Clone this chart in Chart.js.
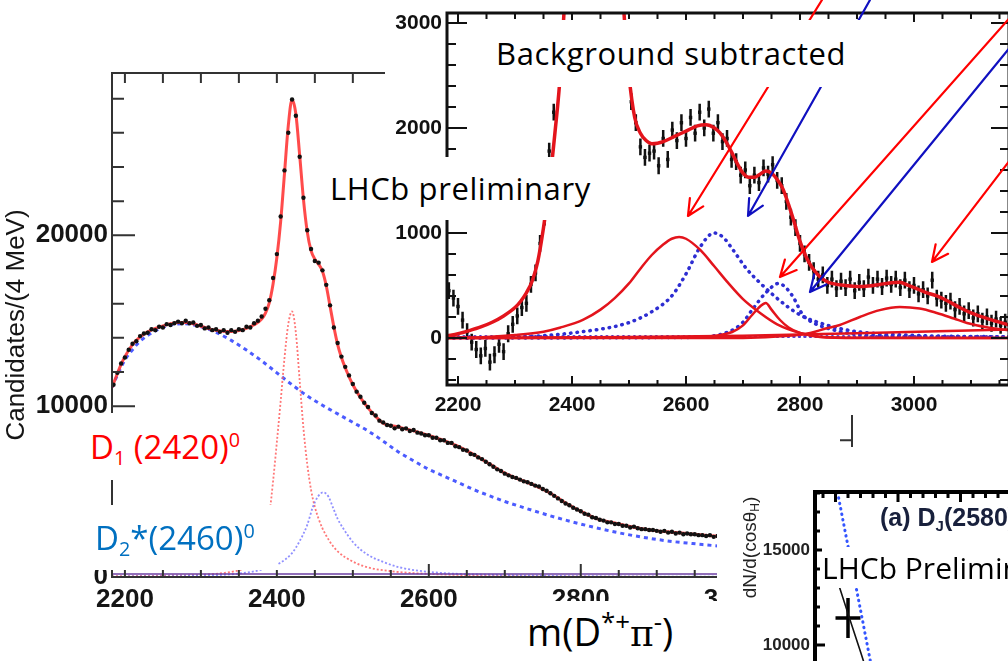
<!DOCTYPE html>
<html>
<head>
<meta charset="utf-8">
<script src="https://cdn.jsdelivr.net/npm/chart.js@4.4.0/dist/chart.umd.min.js"></script>
<style>
  html, body { margin: 0; padding: 0; width: 1008px; height: 661px; overflow: hidden; background: #fff; }
  canvas { display: block; }
  .panel { position: absolute; background: #fff; overflow: hidden; }
  .box { position: absolute; background: #fff; font-family: "Open Sans", sans-serif; white-space: nowrap; overflow: hidden; }
  .sub { position: relative; font-size: 0.6em; top: 0.32em; }
  .sup { position: relative; font-size: 0.6em; top: -0.6em; }
  .tag { position: absolute; left: 880px; top: 504px; font-family: "Liberation Sans", Arial, sans-serif; font-weight: bold; font-size: 25px; line-height: 26px; color: #18203c; white-space: nowrap; }
</style>
</head>
<body>
<canvas id="mainChart" width="1008" height="661" style="position:absolute;left:0;top:0"></canvas>

<div class="panel" style="left:717px;top:447px;width:420px;height:400px">
  <canvas id="angleChart" width="420" height="400"></canvas>
</div>
<div class="tag">(a) D<span class="sub">J</span>(2580)<span class="sup">0</span></div>

<div class="panel" style="left:385px;top:0;width:640px;height:415px">
  <canvas id="insetChart" width="640" height="415"></canvas>
</div>

<!-- slide text boxes -->
<div class="box" style="left:490px;top:20px;width:375px;height:67px;font-size:31px;letter-spacing:0.6px;line-height:67px;padding-left:6px;box-sizing:border-box">Background subtracted</div>
<div class="box" style="left:322px;top:157px;width:278px;height:63px;font-size:31px;letter-spacing:0.6px;line-height:63px;padding-left:8px;box-sizing:border-box">LHCb preliminary</div>
<div class="box" style="left:65px;top:413px;width:203px;height:67px;font-size:33px;line-height:67px;padding-left:25px;box-sizing:border-box;color:#ff0000">D<span class="sub">1</span> (2420)<span class="sup">0</span></div>
<div class="box" style="left:80px;top:505px;width:198px;height:65px;font-size:33px;line-height:65px;padding-left:15px;box-sizing:border-box;color:#0070c0">D<span class="sub">2</span>*(2460)<span class="sup">0</span></div>
<div class="box" style="left:505px;top:601px;width:212px;height:60px;font-size:38px;line-height:60px;padding-left:22px;box-sizing:border-box;color:#000">m(D<span class="sup" style="font-size:0.68em">*+</span><span style="font-family:'DejaVu Serif',serif;font-size:0.95em">π</span><span class="sup" style="font-size:0.68em">-</span>)</div>
<div class="box" style="left:818px;top:553px;width:200px;height:30px;font-size:30px;line-height:30px;padding-left:4px;box-sizing:border-box;overflow:visible;background:transparent"><span style="background:#fff">LHCb Preliminary</span></div>

<script>
// ---------- DATA ----------
// main fit, m(D*+ pi-) in MeV vs candidates / 4 MeV
const mainXTicks = [2200, 2400, 2600, 2800, 3000];
const mainYTicks = [0, 10000, 20000];

// data points, 5 MeV apart starting at 2185
const mainStart = 2185;
const mainStep = 5;
const mainCounts = [
  11250, 11950, 12500, 12850, 13300, 13650, 13800, 14100, 14250, 14300,
  14500, 14450, 14650, 14600, 14800, 14750, 14850, 14950, 14850, 15000,
  14850, 14900, 14700, 14750, 14550, 14600, 14450, 14500, 14350, 14450,
  14300, 14450, 14350, 14500, 14450, 14650, 14600, 14850, 15000, 15250,
  15700, 16200, 17500, 18900, 21100, 23800, 26000, 27950, 27000, 24600,
  22200, 20300, 19200, 18500, 18400, 17950, 17100, 15900, 14600, 13700,
  12900, 12300, 11800, 11300, 10850, 10550, 10200, 9950, 9600, 9450,
  9150, 9050, 8900, 8850, 8700, 8800, 8650, 8700, 8550, 8600,
  8450, 8400, 8300, 8300, 8150, 8150, 8000, 8000, 7850, 7850,
  7650, 7600, 7450, 7400, 7200, 7150, 7000, 6900, 6750, 6600,
  6450, 6300, 6200, 6050, 5950, 5850, 5800, 5700, 5600, 5550,
  5450, 5350, 5300, 5150, 5050, 4900, 4750, 4600, 4450, 4300,
  4200, 4050, 3950, 3850, 3700, 3650, 3500, 3450, 3350, 3300,
  3200, 3200, 3100, 3100, 3000, 3000, 2900, 2950, 2850, 2800,
  2800, 2750, 2750, 2700, 2650, 2700, 2600, 2650, 2550, 2600,
  2500, 2550, 2500, 2500, 2450, 2450, 2400, 2450, 2350, 2400,
  2300, 2350, 2300, 2300, 2250, 2250, 2200, 2250, 2150, 2200,
  2150, 2150, 2100, 2100, 2050, 2100, 2050, 2050, 2000, 2050,
  1950, 2000, 1950, 1950, 1900, 1950, 1900, 1900, 1850, 1900,
  1850, 1850, 1800, 1850, 1800
];

const mainFit = [
  [2183, 11100], [2190, 11900], [2195, 12450], [2200, 12900], [2210, 13600], [2220, 14050],
  [2230, 14350], [2240, 14550], [2250, 14700], [2260, 14820], [2270, 14900], [2280, 14900],
  [2290, 14820], [2300, 14680], [2310, 14540], [2320, 14440], [2330, 14380], [2340, 14370],
  [2350, 14420], [2360, 14550], [2370, 14760], [2380, 15100], [2385, 15450], [2390, 16050],
  [2395, 17150], [2400, 18700], [2405, 20800], [2410, 23600], [2415, 26400], [2420, 27950],
  [2425, 27100], [2430, 24700], [2435, 22100], [2440, 20200], [2445, 19100], [2450, 18600],
  [2455, 18300], [2460, 17900], [2465, 17050], [2470, 15850], [2475, 14650], [2480, 13600],
  [2485, 12850], [2490, 12250], [2500, 11250], [2510, 10500], [2520, 9900], [2530, 9400],
  [2540, 9000], [2560, 8780], [2580, 8550], [2600, 8280], [2620, 7980], [2640, 7620],
  [2660, 7150], [2680, 6620], [2700, 6080], [2720, 5700], [2740, 5350], [2760, 4900],
  [2780, 4330], [2800, 3850], [2820, 3430], [2840, 3200], [2860, 3000], [2880, 2820],
  [2900, 2700], [2920, 2620], [2940, 2540], [2960, 2460], [2980, 2380], [3000, 2310],
  [3020, 2240], [3040, 2170], [3060, 2100], [3080, 2040], [3100, 1980], [3120, 1920],
  [3140, 1870], [3157, 1830]
];

const mainBackground = [
  [2183, 11100], [2190, 11800], [2200, 12700], [2210, 13300], [2220, 13800], [2240, 14400],
  [2260, 14750], [2280, 14820], [2300, 14650], [2320, 14320], [2340, 13850], [2360, 13280],
  [2380, 12650], [2400, 11950], [2420, 11250], [2440, 10600], [2460, 10050], [2480, 9550],
  [2500, 9050], [2520, 8550], [2540, 7950], [2560, 7320], [2580, 6800], [2600, 6300],
  [2620, 5900], [2640, 5500], [2660, 5100], [2680, 4750], [2700, 4420], [2720, 4130],
  [2740, 3850], [2760, 3580], [2780, 3330], [2800, 3100], [2820, 2880], [2840, 2680],
  [2860, 2500], [2880, 2340], [2900, 2200], [2920, 2080], [2940, 1990], [2960, 1900],
  [2980, 1820], [3000, 1750], [3050, 1590], [3100, 1460], [3157, 1340]
];

const d1Shape = [
  [2183, 40], [2250, 80], [2300, 130], [2340, 300], [2360, 550], [2370, 850], [2380, 1500],
  [2385, 2300], [2390, 3600], [2395, 5600], [2400, 7900], [2405, 10300], [2410, 12800],
  [2415, 14800], [2420, 15550], [2425, 14300], [2430, 11500], [2435, 8700], [2440, 6600],
  [2445, 5100], [2450, 4100], [2455, 3400], [2460, 2850], [2470, 2050], [2480, 1500],
  [2500, 900], [2520, 560], [2550, 340], [2600, 180], [2700, 70], [2800, 30], [3157, 0]
];

const d2Shape = [
  [2183, 20], [2300, 80], [2350, 200], [2380, 430], [2404, 820], [2420, 1400], [2430, 2100],
  [2440, 3050], [2447, 4050], [2454, 4700], [2461, 4950], [2468, 4700], [2474, 4050],
  [2480, 3400], [2487, 2870], [2500, 2050], [2518, 1350], [2540, 880], [2562, 560],
  [2600, 300], [2700, 110], [2800, 50], [3157, 10]
];

const mainBaseline = [[2183, 180], [3157, 180]];

// background subtracted inset
const insetXTicks = [2200, 2400, 2600, 2800, 3000];
const insetYTicks = [0, 1000, 2000, 3000];

// data points, 8 MeV apart starting at 2184
const bsStart = 2184;
const bsStep = 8;
const bsErr = 80;
const bsCounts = [
  450, 380, 300, 170, 60, -40, -110, -170,
  -100, -230, -160, -60, -130, 40, 130, 210,
  290, 330, 510, 620, 900, 1150, 1780, 2150,
  2650, 3400, 4500, 6000, 8500, 11000, 11500, 9000,
  7000, 6300, 6400, 6200, 5200, 4200, 3300, 2550,
  2250, 2050, 1820, 1720, 1760, 1780, 1640, 1900,
  1700, 1980, 1880, 2050, 1900, 2100, 1950, 2150,
  2000, 2180, 1950, 2050, 1870, 1900, 1700, 1680,
  1550, 1600, 1450, 1550, 1480, 1620, 1560, 1650,
  1500, 1450, 1300, 1150, 1050, 900, 800, 720,
  640, 560, 600, 500, 560, 470, 540, 480,
  560, 450, 530, 470, 580, 500, 560, 490,
  570, 510, 560, 480, 550, 460, 500, 420,
  460, 400, 550, 380, 360, 330, 350, 270,
  300, 230, 260, 190, 230, 160, 200, 140,
  180, 120, 150, 100
];

const bsFit = [
  [2181, 20], [2200, 40], [2220, 70], [2240, 105], [2260, 150], [2280, 210], [2300, 290],
  [2310, 350], [2320, 430], [2330, 540], [2340, 730], [2350, 1050], [2360, 1450], [2370, 1950],
  [2380, 2550], [2390, 3600], [2400, 5500], [2410, 9000], [2420, 12000], [2430, 9500],
  [2440, 7000], [2450, 6200], [2460, 6500], [2470, 5600], [2480, 4300], [2490, 3200],
  [2500, 2500], [2510, 2100], [2520, 1950], [2530, 1880], [2540, 1850], [2550, 1855],
  [2560, 1870], [2580, 1920], [2600, 1970], [2620, 2020], [2635, 2030], [2650, 2000],
  [2660, 1950], [2670, 1870], [2680, 1770], [2690, 1660], [2700, 1570], [2710, 1530],
  [2720, 1530], [2730, 1560], [2740, 1590], [2750, 1570], [2760, 1510], [2770, 1420],
  [2780, 1270], [2790, 1100], [2800, 920], [2810, 780], [2820, 680], [2830, 610],
  [2840, 560], [2850, 530], [2860, 515], [2880, 500], [2900, 490], [2920, 495],
  [2940, 510], [2960, 525], [2975, 530], [2990, 500], [3000, 480], [3020, 435],
  [3040, 400], [3060, 350], [3080, 290], [3100, 240], [3120, 200], [3140, 165], [3170, 120]
];

const dj2600 = [
  [2181, 0], [2250, 10], [2300, 28], [2350, 60], [2380, 100], [2420, 175], [2450, 270],
  [2475, 380], [2500, 520], [2520, 660], [2540, 790], [2560, 890], [2575, 945], [2588, 962],
  [2600, 945], [2625, 838], [2650, 680], [2674, 524], [2700, 370], [2730, 238], [2760, 130],
  [2800, 48], [2835, 12], [2900, 2], [3170, 0]
];
const dj2650 = [
  [2181, 0], [2309, 10], [2414, 57], [2498, 143], [2540, 250], [2575, 400], [2600, 610],
  [2625, 867], [2649, 1000], [2665, 960], [2681, 850], [2706, 660], [2730, 524], [2755, 400],
  [2779, 295], [2805, 205], [2835, 143], [2870, 90], [2905, 57], [3000, 25], [3170, 10]
];
const dj2740 = [
  [2181, 0], [2600, 5], [2650, 20], [2681, 57], [2700, 120], [2716, 219], [2730, 300],
  [2740, 333], [2750, 270], [2765, 171], [2780, 100], [2800, 48], [2835, 10], [2900, 0], [3170, 0]
];
const dj2760 = [
  [2181, 0], [2600, 5], [2674, 57], [2700, 150], [2716, 267], [2740, 430], [2763, 520],
  [2775, 480], [2788, 390], [2805, 220], [2825, 140], [2847, 95], [2875, 55], [2905, 30],
  [3000, 15], [3170, 5]
];
const dj3000 = [
  [2181, 0], [2700, 0], [2780, 20], [2818, 48], [2845, 90], [2870, 124], [2905, 200],
  [2940, 265], [2975, 295], [3010, 280], [3040, 238], [3070, 185], [3093, 143], [3130, 100], [3170, 70]
];
const bsRedBase = [[2181, 0], [2500, 8], [2700, 20], [2900, 45], [3170, 80]];
const bsBlueBase = [[2181, 15], [3170, 15]];

// arrows pointing at the states, in (mass, candidates) of the inset
const insetArrows = [
  { from: [2838.6, 3219], to: [2603.5, 1162], color: '#ff0000' },
  { from: [2922.8, 3219], to: [2708.8, 1162], color: '#1010c0' },
  { from: [3203.5, 3266], to: [2764.9, 581], color: '#ff0000' },
  { from: [3203.5, 3000], to: [2817.5, 438], color: '#1010c0' },
  { from: [3203.5, 1943], to: [3031.6, 724], color: '#ff0000' }
];

// helicity angle panel
const angleYTicks = [10000, 15000];
const angleCos = [-1.0, -0.9, -0.8, -0.7, -0.6];
const angleFit = [13700, 11650, 9650, 7600, 5700];
const anglePred = [18600, 15200, 11850, 8450, 5300];
const anglePoint = { x: -0.9, y: 11420, xErr: 0.1, yErr: 1050 };

// ---------- HELPERS ----------
const toXY = pairs => pairs.map(p => ({ x: p[0], y: p[1] }));

function eachTick(scale, step, cb) {
  const start = Math.ceil(scale.min / step - 1e-9);
  for (let i = start; i * step <= scale.max + 1e-9; i++) {
    cb(scale.getPixelForValue(i * step), i * step);
  }
}
function isMultiple(v, step) {
  const r = v / step;
  return Math.abs(r - Math.round(r)) < 1e-6;
}

// frame with inward ticks, tick labels and rotated y title
const frameTicks = {
  id: 'frameTicks',
  afterDraw(chart, args, o) {
    const { ctx, chartArea: a, scales: { x, y } } = chart;
    ctx.save();
    ctx.strokeStyle = o.color;
    ctx.lineWidth = o.tickWidth;
    ctx.beginPath();
    eachTick(x, o.xMinor, (px, v) => {
      const major = isMultiple(v, o.xMajor);
      ctx.moveTo(px, a.bottom);
      ctx.lineTo(px, a.bottom - (major ? o.bottomMajor : o.bottomMinor));
      ctx.moveTo(px, a.top);
      ctx.lineTo(px, a.top + (major ? o.topMajor : o.topMinor));
    });
    eachTick(y, o.yMinor, (py, v) => {
      const major = isMultiple(v, o.yMajor);
      ctx.moveTo(a.left, py);
      ctx.lineTo(a.left + (major ? o.leftMajor : o.leftMinor), py);
      ctx.moveTo(a.right, py);
      ctx.lineTo(a.right - (major ? o.rightMajor : o.rightMinor), py);
    });
    ctx.stroke();
    ctx.lineWidth = o.frameWidth;
    ctx.strokeRect(a.left, a.top, a.width, a.height);

    ctx.fillStyle = o.labelColor;
    ctx.font = o.labelFont;
    ctx.textBaseline = 'middle';
    ctx.textAlign = 'center';
    (o.xLabels || []).forEach(v => ctx.fillText(String(v), x.getPixelForValue(v), a.bottom + o.xLabelGap));
    ctx.textAlign = 'right';
    (o.yLabels || []).forEach(v => ctx.fillText(String(v), a.left - o.yLabelGap, y.getPixelForValue(v)));

    if (o.yTitle) {
      const parts = [
        { t: o.yTitle, f: o.titleFont, dy: 0 },
        { t: o.yTitleSub || '', f: o.titleSubFont || o.titleFont, dy: 5 },
        { t: o.yTitleTail || '', f: o.titleFont, dy: 0 }
      ];
      let total = 0;
      parts.forEach(p => { ctx.font = p.f; p.w = ctx.measureText(p.t).width; total += p.w; });
      ctx.translate(o.yTitleX, (a.top + a.bottom) / 2 + (o.yTitleShift || 0));
      ctx.rotate(-Math.PI / 2);
      ctx.textAlign = 'left';
      let cx = -total / 2;
      parts.forEach(p => { ctx.font = p.f; ctx.fillText(p.t, cx, p.dy); cx += p.w; });
    }
    ctx.restore();
  }
};

// error bars, drawn under the lines
const errorBars = {
  id: 'errorBars',
  beforeDatasetsDraw(chart) {
    const { ctx, chartArea: a, scales: { x, y } } = chart;
    ctx.save();
    ctx.beginPath();
    ctx.rect(a.left, a.top, a.width, a.height);
    ctx.clip();
    chart.data.datasets.forEach(ds => {
      if (!ds.errY && !ds.errX) return;
      ctx.strokeStyle = ds.errColor;
      ctx.lineWidth = ds.errWidth;
      ctx.beginPath();
      ds.data.forEach(p => {
        const px = x.getPixelForValue(p.x), py = y.getPixelForValue(p.y);
        if (ds.errY) {
          ctx.moveTo(px, y.getPixelForValue(p.y - ds.errY));
          ctx.lineTo(px, y.getPixelForValue(p.y + ds.errY));
        }
        if (ds.errX) {
          ctx.moveTo(x.getPixelForValue(p.x - ds.errX), py);
          ctx.lineTo(x.getPixelForValue(p.x + ds.errX), py);
        }
      });
      ctx.stroke();
    });
    ctx.restore();
  }
};

// open arrows in data coordinates
const arrows = {
  id: 'arrows',
  afterDraw(chart, args, o) {
    const { ctx, scales: { x, y } } = chart;
    ctx.save();
    ctx.lineWidth = o.width;
    ctx.lineCap = 'round';
    (o.list || []).forEach(ar => {
      const x1 = x.getPixelForValue(ar.from[0]), y1 = y.getPixelForValue(ar.from[1]);
      const x2 = x.getPixelForValue(ar.to[0]), y2 = y.getPixelForValue(ar.to[1]);
      const ang = Math.atan2(y2 - y1, x2 - x1);
      ctx.strokeStyle = ar.color;
      ctx.beginPath();
      ctx.moveTo(x1, y1);
      ctx.lineTo(x2, y2);
      [-1, 1].forEach(s => {
        ctx.moveTo(x2, y2);
        ctx.lineTo(x2 - o.head * Math.cos(ang + s * o.spread), y2 - o.head * Math.sin(ang + s * o.spread));
      });
      ctx.stroke();
    });
    ctx.restore();
  }
};

function line(data, color, width, dash, order, cap) {
  return {
    data: toXY(data), showLine: true, pointRadius: 0, borderColor: color, borderWidth: width,
    borderDash: dash || [], borderCapStyle: cap || 'butt', cubicInterpolationMode: 'monotone', order: order
  };
}

function baseOptions(pad, xr, yr, frame, extra) {
  return {
    responsive: false,
    animation: false,
    events: [],
    layout: { padding: pad },
    scales: {
      x: { type: 'linear', min: xr[0], max: xr[1], display: false },
      y: { type: 'linear', min: yr[0], max: yr[1], display: false }
    },
    plugins: Object.assign({ legend: { display: false }, tooltip: { enabled: false }, frameTicks: frame }, extra || {})
  };
}

// ---------- MAIN CHART ----------
new Chart(document.getElementById('mainChart'), {
  type: 'scatter',
  data: {
    datasets: [
      {
        data: mainCounts.map((v, i) => ({ x: mainStart + i * mainStep, y: v })),
        pointRadius: 2.2, pointBackgroundColor: '#111', pointBorderWidth: 0, showLine: false, order: 0
      },
      line(mainFit, 'rgba(255,55,55,0.9)', 3, null, 1),
      line(mainBaseline, '#6c3fa3', 1.5, null, 2),
      line(d2Shape, 'rgba(125,125,255,0.85)', 1.8, [2, 2], 3),
      line(d1Shape, 'rgba(255,95,95,0.85)', 1.8, [2, 2], 4),
      line(mainBackground, '#4b5bff', 3, [4, 4], 5)
    ]
  },
  options: baseOptions({ left: 112, top: 73, right: 156, bottom: 84 }, [2183, 3157], [0, 29500], {
    color: '#333', tickWidth: 2, frameWidth: 2,
    xMinor: 50, xMajor: 200, bottomMinor: 7, bottomMajor: 13, topMinor: 10, topMajor: 10,
    yMinor: 2000, yMajor: 10000, leftMinor: 12, leftMajor: 23, rightMinor: 12, rightMajor: 23,
    labelColor: '#151515', labelFont: "bold 26px 'Liberation Sans', Arial, sans-serif",
    xLabels: mainXTicks, xLabelGap: 23, yLabels: mainYTicks, yLabelGap: 4,
    yTitle: 'Candidates/(4 MeV)', titleFont: "26px 'Liberation Sans', Arial, sans-serif", yTitleX: 17
  }),
  plugins: [frameTicks]
});

// ---------- BACKGROUND SUBTRACTED INSET ----------
new Chart(document.getElementById('insetChart'), {
  type: 'scatter',
  data: {
    datasets: [
      line(bsFit, '#e3141c', 3.5, null, 0),
      line(dj2600, '#e3141c', 2.5, null, 1),
      line(dj2740, '#e3141c', 2.5, null, 1),
      line(dj3000, '#e3141c', 2.5, null, 1),
      line(bsRedBase, '#e3141c', 2.5, null, 1),
      line(dj2650, '#2d2dd2', 3.5, [0.5, 6], 2, 'round'),
      line(dj2760, '#2d2dd2', 3.5, [0.5, 6], 2, 'round'),
      line(bsBlueBase, '#5a3ac8', 3, [0.5, 5], 2, 'round'),
      {
        data: bsCounts.map((v, i) => ({ x: bsStart + i * bsStep, y: v })),
        showLine: false, pointStyle: 'rect', pointRadius: 2.4, pointBackgroundColor: '#111',
        pointBorderWidth: 0, order: 3,
        errY: bsErr, errColor: '#111', errWidth: 2.5
      }
    ]
  },
  options: baseOptions({ left: 62, top: 13, right: 16, bottom: 30 }, [2180.7, 3166.7], [-448, 3095], {
    color: '#111', tickWidth: 2, frameWidth: 3,
    xMinor: 50, xMajor: 200, bottomMinor: 5, bottomMajor: 9, topMinor: 6, topMajor: 9,
    yMinor: 200, yMajor: 1000, leftMinor: 9, leftMajor: 20, rightMinor: 9, rightMajor: 18,
    labelColor: '#111', labelFont: "bold 21px 'Liberation Sans', Arial, sans-serif",
    xLabels: insetXTicks, xLabelGap: 20, yLabels: insetYTicks, yLabelGap: 5
  }, {
    arrows: { list: insetArrows, width: 2.2, head: 18, spread: 0.45 }
  }),
  plugins: [frameTicks, errorBars, arrows]
});

// ---------- HELICITY ANGLE PANEL ----------
new Chart(document.getElementById('angleChart'), {
  type: 'scatter',
  data: {
    datasets: [
      {
        data: [{ x: anglePoint.x, y: anglePoint.y }], showLine: false, pointRadius: 0, order: 0,
        errY: anglePoint.yErr, errX: anglePoint.xErr, errColor: '#000', errWidth: 3.5
      },
      line(angleCos.map((c, i) => [c, angleFit[i]]), '#111', 1.6, null, 1),
      line(angleCos.map((c, i) => [c, anglePred[i]]), '#3355ff', 3, [0.5, 5], 2, 'round')
    ]
  },
  options: baseOptions({ left: 98, top: 45, right: 31, bottom: 88 }, [-1.164, 1.164], [4000, 18050], {
    color: '#000', tickWidth: 3, frameWidth: 4,
    xMinor: 0.1, xMajor: 0.5, bottomMinor: 6, bottomMajor: 10, topMinor: 6, topMajor: 10,
    yMinor: 1000, yMajor: 5000, leftMinor: 5, leftMajor: 10, rightMinor: 5, rightMajor: 10,
    labelColor: '#222', labelFont: "bold 17px 'Liberation Sans', Arial, sans-serif",
    xLabels: [], xLabelGap: 20, yLabels: angleYTicks, yLabelGap: 5,
    yTitle: 'dN/d(cosθ', yTitleSub: 'H', yTitleTail: ')',
    titleFont: "19px 'Liberation Sans', Arial, sans-serif", titleSubFont: "12px 'Liberation Sans', Arial, sans-serif",
    yTitleX: 34, yTitleShift: -78
  }),
  plugins: [frameTicks, errorBars]
});
</script>
</body>
</html>
